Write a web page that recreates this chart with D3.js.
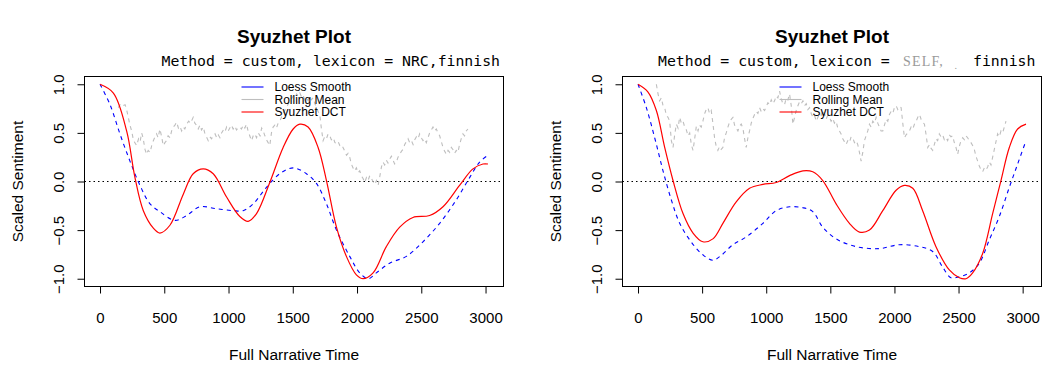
<!DOCTYPE html>
<html>
<head>
<meta charset="utf-8">
<script src="https://cdn.jsdelivr.net/npm/d3@7"></script>
<style>
  body { margin: 0; background: #fff; }
  text { font-family: "Liberation Sans", Arial, sans-serif; fill: #000; }
</style>
</head>
<body>
<script>
var W = 1064, H = 366;

var xTicks = [0, 500, 1000, 1500, 2000, 2500, 3000];
var yTicks = [1.0, 0.5, 0.0, -0.5, -1.0];
var legendLabels = ["Loess Smooth", "Rolling Mean", "Syuzhet DCT"];

// left panel: NRC,finnish
var leftDct = [[0,1.0],[104,0.91],[207,0.52],[272,0.04],[337,-0.30],[415,-0.48],[466,-0.53],[544,-0.45],
  [648,-0.13],[725,0.08],[803,0.13],[881,0.08],[985,-0.16],[1088,-0.36],[1153,-0.41],[1218,-0.33],
  [1321,-0.01],[1425,0.35],[1503,0.54],[1555,0.59],[1619,0.56],[1697,0.35],[1762,0.01],[1840,-0.47],
  [1917,-0.77],[1995,-0.96],[2047,-1.0],[2125,-0.94],[2228,-0.67],[2332,-0.47],[2435,-0.37],[2565,-0.35],
  [2669,-0.26],[2798,-0.04],[2902,0.13],[2980,0.18],[3019,0.18]];

var leftLoess = [[0,1.0],[78,0.79],[155,0.49],[233,0.21],[311,-0.04],[389,-0.23],[466,-0.31],[583,-0.40],
  [674,-0.35],[777,-0.26],[907,-0.28],[1036,-0.30],[1114,-0.30],[1192,-0.23],[1295,-0.06],[1399,0.08],
  [1503,0.14],[1606,0.08],[1684,-0.02],[1762,-0.23],[1840,-0.50],[1943,-0.77],[2021,-0.94],[2086,-1.0],
  [2150,-0.94],[2254,-0.84],[2384,-0.77],[2513,-0.62],[2643,-0.43],[2772,-0.19],[2876,0.04],[2954,0.20],[3019,0.27]];

var leftRolling = [[142,0.76],[160,0.80],[181,0.78],[195,0.79],[207,0.74],[220,0.66],[233,0.58],[246,0.52],
  [258,0.44],[270,0.40],[285,0.37],[300,0.44],[312,0.41],[324,0.50],[335,0.45],[350,0.33],[363,0.28],
  [375,0.32],[390,0.30],[402,0.37],[415,0.42],[428,0.46],[440,0.49],[452,0.45],[466,0.54],[478,0.47],
  [492,0.37],[505,0.40],[518,0.42],[530,0.47],[545,0.45],[557,0.52],[570,0.56],[583,0.58],[596,0.61],
  [610,0.55],[622,0.57],[635,0.52],[648,0.56],[660,0.54],[674,0.59],[690,0.62],[705,0.60],[725,0.66],
  [738,0.60],[750,0.58],[764,0.54],[778,0.58],[790,0.53],[803,0.56],[815,0.50],[828,0.46],[842,0.42],
  [855,0.46],[868,0.44],[881,0.47],[895,0.49],[908,0.45],[920,0.48],[933,0.45],[946,0.50],[960,0.53],
  [972,0.51],[985,0.56],[998,0.52],[1010,0.55],[1023,0.58],[1036,0.54],[1050,0.57],[1062,0.53],[1075,0.55],
  [1088,0.56],[1100,0.54],[1115,0.58],[1127,0.55],[1140,0.59],[1152,0.52],[1165,0.47],[1179,0.42],
  [1192,0.47],[1205,0.49],[1218,0.45],[1232,0.50],[1245,0.47],[1258,0.55],[1270,0.52],[1283,0.47],
  [1295,0.43],[1308,0.40],[1321,0.37],[1334,0.50],[1347,0.56],[1360,0.58],[1373,0.55],[1386,0.60],
  [1399,0.62],[1412,0.66],[1425,0.70],[1438,0.73],[1451,0.76],[1465,0.80],[1478,0.83],[1490,0.85],
  [1503,0.88],[1516,0.86],[1530,0.90],[1542,0.88],[1555,0.91],[1568,0.87],[1580,0.89],[1593,0.84],
  [1606,0.86],[1620,0.83],[1632,0.87],[1645,0.84],[1658,0.86],[1672,0.80],[1685,0.76],[1697,0.72],
  [1710,0.69],[1722,0.55],[1736,0.42],[1748,0.46],[1762,0.44],[1775,0.49],[1788,0.47],[1800,0.43],
  [1815,0.45],[1828,0.40],[1840,0.39],[1853,0.41],[1866,0.37],[1878,0.38],[1891,0.35],[1905,0.31],
  [1918,0.27],[1930,0.29],[1943,0.25],[1956,0.18],[1969,0.14],[1982,0.11],[1995,0.14],[2008,0.09],
  [2021,0.11],[2034,0.06],[2047,0.03],[2060,-0.01],[2073,0.04],[2086,0.01],[2099,0.06],[2112,0.03],
  [2125,0.00],[2138,-0.03],[2151,0.01],[2164,-0.04],[2177,0.05],[2190,0.15],[2202,0.20],[2215,0.17],
  [2228,0.22],[2241,0.19],[2254,0.23],[2267,0.26],[2280,0.22],[2293,0.18],[2306,0.20],[2319,0.25],
  [2332,0.28],[2345,0.31],[2358,0.33],[2371,0.38],[2384,0.41],[2397,0.44],[2410,0.40],[2423,0.42],
  [2436,0.38],[2449,0.43],[2462,0.46],[2475,0.44],[2487,0.49],[2500,0.45],[2513,0.42],[2526,0.44],
  [2539,0.40],[2552,0.45],[2565,0.50],[2578,0.53],[2591,0.56],[2604,0.52],[2617,0.54],[2630,0.50],
  [2643,0.47],[2656,0.41],[2669,0.35],[2682,0.31],[2695,0.28],[2708,0.32],[2721,0.30],[2734,0.35],
  [2746,0.33],[2759,0.29],[2772,0.32],[2785,0.30],[2798,0.38],[2811,0.44],[2824,0.49],[2837,0.47],
  [2850,0.52],[2863,0.54]];

// right panel: SELF, finnish
var rightDct = [[0,1.0],[78,0.92],[143,0.73],[208,0.35],[273,0.01],[351,-0.33],[429,-0.53],[506,-0.62],
  [584,-0.59],[662,-0.43],[766,-0.21],[870,-0.07],[974,-0.03],[1078,-0.01],[1182,0.06],[1286,0.11],
  [1363,0.10],[1441,0.01],[1545,-0.23],[1649,-0.43],[1727,-0.52],[1805,-0.50],[1909,-0.30],[2013,-0.09],
  [2078,-0.04],[2143,-0.07],[2220,-0.30],[2324,-0.67],[2428,-0.91],[2506,-0.99],[2558,-1.0],[2610,-0.94],
  [2688,-0.74],[2766,-0.33],[2831,0.01],[2896,0.35],[2961,0.54],[3026,0.59]];

var rightLoess = [[0,1.0],[65,0.76],[130,0.45],[195,0.11],[260,-0.19],[325,-0.43],[403,-0.60],[493,-0.74],
  [584,-0.81],[649,-0.76],[740,-0.65],[844,-0.57],[974,-0.43],[1078,-0.30],[1182,-0.26],[1286,-0.27],
  [1363,-0.31],[1441,-0.47],[1545,-0.59],[1701,-0.67],[1883,-0.69],[2039,-0.65],[2195,-0.67],[2298,-0.72],
  [2376,-0.88],[2441,-0.99],[2506,-0.98],[2584,-0.94],[2662,-0.84],[2740,-0.60],[2818,-0.36],[2896,-0.06],
  [2961,0.18],[3026,0.42]];

var rightRolling = [[143,1.0],[156,0.90],[169,0.83],[182,0.86],[195,0.78],[208,0.76],[221,0.68],[234,0.66],
  [247,0.62],[260,0.42],[273,0.35],[286,0.48],[299,0.59],[312,0.55],[325,0.66],[338,0.60],[351,0.62],
  [364,0.56],[377,0.53],[390,0.47],[403,0.50],[416,0.38],[429,0.32],[442,0.44],[455,0.57],[468,0.52],
  [480,0.58],[493,0.56],[506,0.62],[520,0.70],[532,0.74],[545,0.76],[558,0.70],[571,0.73],[584,0.60],
  [597,0.45],[610,0.36],[623,0.32],[636,0.36],[649,0.33],[662,0.35],[675,0.45],[688,0.50],[701,0.56],
  [714,0.61],[727,0.64],[740,0.66],[753,0.58],[766,0.55],[779,0.52],[792,0.57],[805,0.59],[818,0.55],
  [831,0.44],[844,0.35],[857,0.45],[870,0.52],[883,0.60],[896,0.65],[909,0.69],[922,0.72],[935,0.70],
  [948,0.76],[961,0.72],[974,0.75],[987,0.73],[1000,0.77],[1013,0.81],[1026,0.79],[1039,0.84],
  [1052,0.80],[1065,0.83],[1078,0.88],[1091,0.86],[1104,0.93],[1117,0.85],[1130,0.80],[1143,0.79],
  [1156,0.86],[1169,0.84],[1182,0.90],[1195,0.78],[1208,0.59],[1221,0.66],[1234,0.73],[1247,0.78],
  [1260,0.82],[1273,0.80],[1286,0.83],[1299,0.78],[1312,0.80],[1325,0.74],[1338,0.76],[1351,0.70],
  [1364,0.66],[1377,0.68],[1390,0.62],[1403,0.66],[1416,0.70],[1429,0.68],[1441,0.73],[1454,0.70],
  [1467,0.64],[1480,0.68],[1493,0.66],[1506,0.62],[1519,0.65],[1532,0.60],[1545,0.62],[1558,0.55],
  [1571,0.52],[1584,0.49],[1597,0.44],[1610,0.41],[1623,0.38],[1636,0.42],[1649,0.40],[1662,0.46],
  [1675,0.45],[1688,0.40],[1701,0.42],[1714,0.38],[1727,0.30],[1740,0.21],[1753,0.30],[1766,0.42],
  [1779,0.47],[1792,0.52],[1805,0.59],[1818,0.56],[1831,0.62],[1844,0.60],[1857,0.66],[1870,0.60],
  [1883,0.56],[1896,0.52],[1909,0.52],[1922,0.58],[1935,0.64],[1948,0.62],[1961,0.69],[1974,0.72],
  [1987,0.70],[2000,0.76],[2013,0.78],[2026,0.74],[2039,0.77],[2052,0.76],[2065,0.60],[2078,0.45],
  [2091,0.48],[2104,0.50],[2117,0.52],[2130,0.56],[2143,0.54],[2156,0.59],[2169,0.62],[2182,0.66],
  [2195,0.69],[2208,0.64],[2221,0.61],[2234,0.59],[2247,0.48],[2260,0.35],[2273,0.38],[2286,0.34],
  [2298,0.32],[2311,0.38],[2324,0.44],[2337,0.42],[2350,0.49],[2363,0.46],[2376,0.48],[2389,0.43],
  [2402,0.45],[2415,0.42],[2428,0.48],[2441,0.46],[2454,0.47],[2467,0.40],[2480,0.35],[2493,0.28],
  [2506,0.36],[2519,0.42],[2532,0.45],[2545,0.43],[2558,0.47],[2571,0.45],[2584,0.42],[2597,0.40],
  [2610,0.37],[2623,0.33],[2636,0.26],[2649,0.21],[2662,0.16],[2675,0.12],[2688,0.10],[2701,0.14],
  [2714,0.12],[2727,0.15],[2740,0.20],[2753,0.17],[2766,0.25],[2779,0.33],[2792,0.41],[2805,0.49],
  [2818,0.46],[2831,0.52],[2844,0.50],[2857,0.56],[2870,0.62]];

var panels = [
  {cx: 0,   dct: leftDct,  loess: leftLoess,  rolling: leftRolling,  lexicon: "NRC,finnish"},
  {cx: 538, dct: rightDct, loess: rightLoess, rolling: rightRolling, lexicon: null}
];

var svg = d3.select("body").append("svg")
    .attr("width", W)
    .attr("height", H);

panels.forEach(function(p) { drawPanel(p); });

function drawPanel(p) {
  var left = 84.5 + p.cx, right = 503.5 + p.cx,
      top = 76.5, bottom = 286.5;
  var g = svg.append("g");

  // R pads the data range by 4% on each side
  var xmax = d3.max(p.dct, function(d) { return d[0]; });
  var pad = xmax * 0.04;
  var x = d3.scaleLinear().domain([-pad, xmax + pad]).range([left, right]);
  var y = d3.scaleLinear().domain([-1.08, 1.08]).range([bottom, top]);

  // axes
  var xAxis = d3.axisBottom(x).tickValues(xTicks).tickSize(7).tickPadding(19)
    .tickFormat(d3.format("d"));
  var gx = g.append("g").attr("transform", "translate(0," + bottom + ")").call(xAxis);
  gx.select(".domain").attr("d", "M" + x(0) + ",0H" + x(3000));
  gx.selectAll("text").style("font-size", "15px").style("font-family", "Liberation Sans, Arial, sans-serif");

  var yAxis = d3.axisLeft(y).tickValues(yTicks).tickSize(7).tickFormat(d3.format(".1f"));
  var gy = g.append("g").attr("transform", "translate(" + left + ",0)").call(yAxis);
  gy.select(".domain").attr("d", "M0," + y(-1) + "V" + y(1));
  gy.selectAll(".tick text")
    .attr("x", null).attr("dy", null)
    .attr("transform", "translate(-21,0) rotate(-90)")
    .attr("text-anchor", "middle")
    .style("font-size", "15px").style("font-family", "Liberation Sans, Arial, sans-serif");
  g.selectAll(".tick line").attr("stroke", "#000");
  g.selectAll(".domain").attr("stroke", "#000");

  // zero line
  g.append("line")
    .attr("x1", left).attr("x2", right)
    .attr("y1", y(0)).attr("y2", y(0))
    .attr("stroke", "#000").attr("stroke-dasharray", "1.5,3");

  var smooth = d3.line()
    .x(function(d) { return x(d[0]); })
    .y(function(d) { return y(d[1]); })
    .curve(d3.curveCatmullRom.alpha(0.5));
  var jagged = d3.line()
    .x(function(d) { return x(d[0]); })
    .y(function(d) { return y(d[1]); });

  g.append("path").attr("d", jagged(p.rolling))
    .attr("fill", "none").attr("stroke", "#bebebe").attr("stroke-width", 1.1)
    .attr("stroke-dasharray", "4,4");
  g.append("path").attr("d", smooth(p.loess))
    .attr("fill", "none").attr("stroke", "#0000ff").attr("stroke-width", 1.1)
    .attr("stroke-dasharray", "4,4");
  g.append("path").attr("d", smooth(p.dct))
    .attr("fill", "none").attr("stroke", "#ff0000").attr("stroke-width", 1.2);

  // box
  g.append("rect")
    .attr("x", left).attr("y", top)
    .attr("width", right - left).attr("height", bottom - top)
    .attr("fill", "none").attr("stroke", "#000");

  // legend, no frame
  var legColors = ["#0000ff", "#bebebe", "#ff0000"];
  legendLabels.forEach(function(lab, i) {
    var ly = 87 + i * 12.5;
    g.append("line")
      .attr("x1", left + 157).attr("x2", left + 179)
      .attr("y1", ly).attr("y2", ly)
      .attr("stroke", legColors[i]).attr("stroke-width", 1.1);
    g.append("text")
      .attr("x", left + 190).attr("y", ly + 4)
      .style("font-size", "12px")
      .text(lab);
  });

  // titles
  var mid = (left + right) / 2;
  g.append("text")
    .attr("x", mid).attr("y", 43)
    .attr("text-anchor", "middle")
    .style("font-size", "19px").style("font-weight", "bold")
    .text("Syuzhet Plot");

  if (p.lexicon) {
    g.append("text")
      .attr("x", right - 3.5).attr("y", 66)
      .attr("text-anchor", "end")
      .style("font-family", "DejaVu Sans Mono, monospace")
      .style("font-size", "14.8px")
      .text("Method = custom, lexicon = " + p.lexicon);
  } else {
    var sub = g.append("text")
      .attr("y", 66)
      .style("font-family", "DejaVu Sans Mono, monospace")
      .style("font-size", "14.8px");
    sub.append("tspan").attr("x", left + 35.5).text("Method = custom, lexicon =");
    sub.append("tspan")
      .attr("x", left + 280.5)
      .style("font-family", "Liberation Serif, Times New Roman, serif")
      .style("font-size", "14px").style("fill", "#9a9a9a")
      .style("letter-spacing", "1.2px")
      .text("SELF,");
    sub.append("tspan")
      .attr("x", left + 332).attr("dy", 3)
      .style("font-family", "Liberation Serif, serif")
      .style("font-size", "10px").style("fill", "#9a9a9a")
      .text(".");
    sub.append("tspan").attr("x", left + 350.5).attr("dy", -3).text("finnish");
  }

  g.append("text")
    .attr("x", mid).attr("y", 360)
    .attr("text-anchor", "middle")
    .style("font-size", "15.5px")
    .text("Full Narrative Time");

  g.append("text")
    .attr("transform", "translate(" + (left - 61.5) + "," + ((top + bottom) / 2) + ") rotate(-90)")
    .attr("text-anchor", "middle")
    .style("font-size", "15.5px")
    .text("Scaled Sentiment");
}
</script>
</body>
</html>
